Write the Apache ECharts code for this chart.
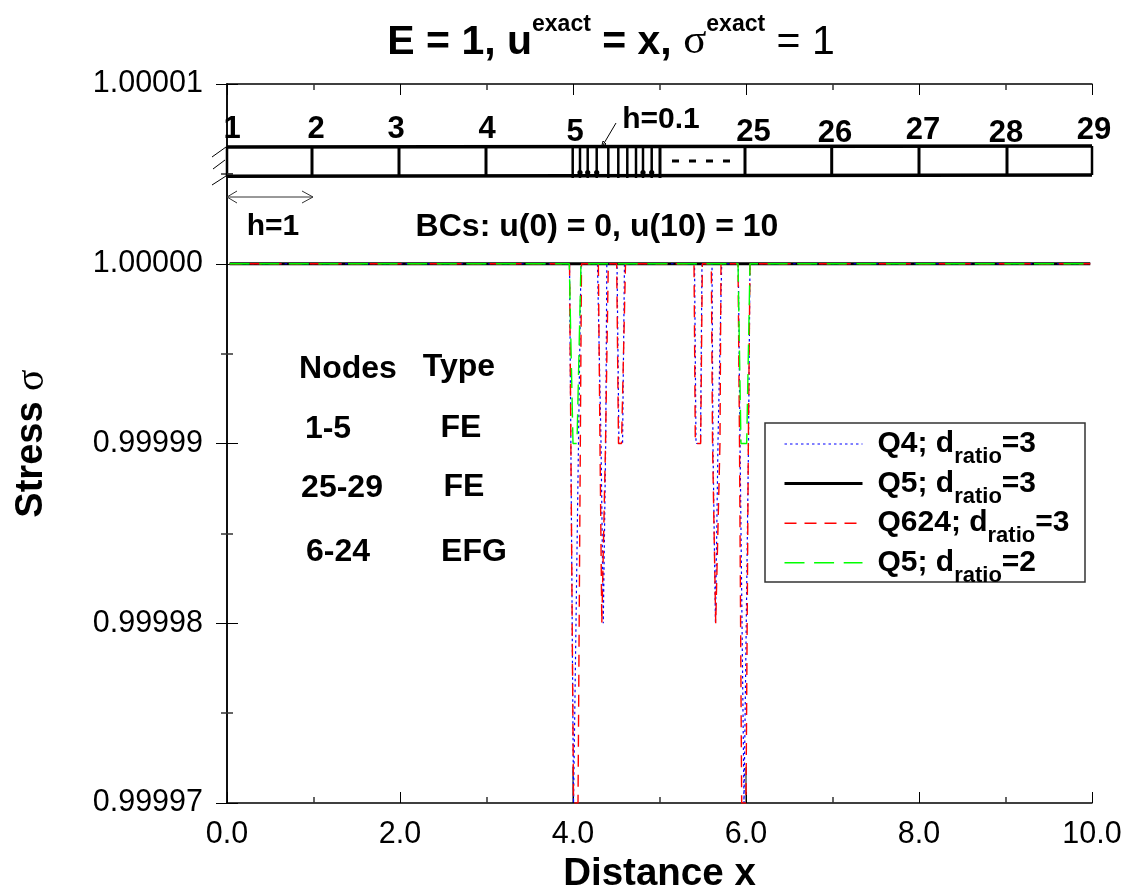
<!DOCTYPE html>
<html><head><meta charset="utf-8">
<style>html,body{margin:0;padding:0;background:#fff}#c{width:1129px;height:890px}</style>
<script src="https://cdn.jsdelivr.net/npm/echarts@6/dist/echarts.min.js"></script>
</head><body><div id="c"></div>
<script>
var q4X=[0.03,3.960,4.006,4.023,4.092,4.283,4.324,4.350,4.378,4.391,4.509,4.531,4.573,4.595,5.405,5.422,5.474,5.491,5.607,5.618,5.647,5.653,5.676,5.719,5.911,5.931,5.977,6.000,6.029,6.046,9.98];
var q4Y=[1,1,0.99997,0.99997,1,1,0.99999,0.99998,0.99999,1,1,0.99999,0.99999,1,1,0.99999,0.99999,1,1,0.99999,0.99998,0.99998,0.99999,1,1,0.99999,0.99997,0.99997,0.99999,1,1];
var q5X=[0.03,9.98];
var q5Y=[1,1];
var q5StubX=[4.0,4.0,null,6.0,6.0];
var q5StubY=[0.99997,0.999972,null,0.99997,0.999972];
var q624X=[0.03,3.960,4.006,4.058,4.098,4.293,4.312,4.333,4.350,4.376,4.393,4.408,4.505,4.526,4.561,4.607,5.399,5.414,5.476,5.495,5.599,5.613,5.624,5.650,5.665,5.699,5.711,5.908,5.925,5.950,6.000,6.027,6.046,9.98];
var q624Y=[1,1,0.99997,0.99997,1,1,0.99999,0.99998,0.99998,0.99999,0.99999,1,1,0.99999,0.99999,1,1,0.99999,0.99999,1,1,0.99999,0.99999,0.99998,0.99998,0.99999,1,1,0.99999,0.99997,0.99997,0.99999,1,1];
var q5r2X=[0.03,3.957,4.000,4.046,4.092,5.908,5.942,6.008,6.046,9.98];
var q5r2Y=[1,1,0.99999,0.99999,1,1,0.99999,0.99999,1,1];
var seriesNames=['Q4; dratio=3','Q5; dratio=3','Q624; dratio=3','Q5; dratio=2'];
var legendWidths=[1.2,3,1.4,1.4];

function pairs(xs,ys){return xs.map(function(x,i){return x===null?[null,null]:[x,ys[i]];});}
var F='"Liberation Sans",Arial,sans-serif';
var chart=echarts.init(document.getElementById('c'),null,{renderer:'canvas'});
function line(id,pts,w,color,extra){
  var o={type:'polyline',silent:true,z:10,shape:{points:pts},style:{stroke:color||'#000',lineWidth:w,fill:null}};
  if(extra)for(var k in extra)o.style[k]=extra[k];
  return o;
}
function txt(s,x,y,size){
  return {type:'text',silent:true,z:11,x:x,y:y,style:{text:s,fill:'#000',font:'bold '+size+'px '+F,textAlign:'center',textVerticalAlign:'middle'}};
}
function beamTopY(x){return 147-(x-227)/865*1;}
function beamBotY(x){return 176.3-(x-227)/865*1.3;}
var g=[];
g.push({type:'rect',silent:true,z:8,shape:{x:765,y:423,width:320,height:159},style:{fill:'#fff',stroke:'#333',lineWidth:1.5}});
g.push(line('t',[[227,147],[1092,146]],3.5));
g.push(line('b',[[227,176.3],[1092,175]],3.5));
[227,312,399,486,745,831.7,919,1007,1092].forEach(function(x){g.push(line('n',[[x,beamTopY(x)],[x,beamBotY(x)]],x===227||x===1092?2.5:3));});
[572.7,580,587.7,596.7,608.3,618.3,627.3,636,643,651.7,660].forEach(function(x){g.push(line('n',[[x,beamTopY(x)],[x,178]],x===660?3:2.5));});
[580,587.7,596.7,643,651.7].forEach(function(x){g.push({type:'circle',silent:true,z:10,shape:{cx:x,cy:172.5,r:2.6},style:{fill:'#000'}});});
g.push(line('lead',[[616,123],[603,145]],1));
g.push(line('lead2',[[601.5,147],[603,141],[606,144],[601.5,147]],1));
g.push(line('dash',[[672,161],[738,161]],3,'#000',{lineDash:[7,10]}));
g.push(line('h1',[[227,197],[313,197]],1,'#333'));
g.push(line('h1a',[[237,191],[227,197],[237,203]],1,'#333'));
g.push(line('h1b',[[302,191],[313,197],[302,203]],1,'#333'));
g.push(line('h',[[212,157],[226,147]],1));
g.push(line('h',[[213,169],[225,160]],1));
g.push(line('h',[[212,185],[226,176]],1));
g.push(line('h',[[227,174],[233,174]],1.5,'#333'));
[['1',232,129,31],['2',316,129,31],['3',396,129,31],['4',487,129,31],['5',575,132,31],['25',753.5,132,31],['26',835,133,31],['27',923,130,31],['28',1006,133,31],['29',1094,130,31],
 ['h=0.1',661,120,30],['h=1',273,227,30],['BCs: u(0) = 0, u(10) = 10',597,227,32],
 ['Nodes',348,369,32],['Type',459,367,32],['1-5',328,429,32],['FE',461,428,32],['25-29',342,488,32],['FE',464,487,32],['6-24',338,552,32],['EFG',474,552,32]
].forEach(function(t){g.push(txt(t[0],t[1],t[2],t[3]));});

var axisLine={show:true,lineStyle:{color:'#000',width:1.5}};
var tick={show:true,inside:true,length:11,lineStyle:{color:'#000',width:1}};
var minor={show:true,length:6,lineStyle:{color:'#333',width:1.5}};
var series=[
 {name:seriesNames[0],type:'line',data:pairs(q4X,q4Y),lineStyle:{color:'#0000ff',width:1.2,type:[2.5,3]},itemStyle:{color:'#0000ff'},z:3},
 {name:seriesNames[1],type:'line',data:pairs(q5X,q5Y),lineStyle:{color:'#000',width:3},itemStyle:{color:'#000'},z:2},
 {name:'Q5 lower ends',type:'line',data:pairs(q5StubX,q5StubY),connectNulls:false,lineStyle:{color:'#000',width:1},itemStyle:{color:'#000'},z:2},
 {name:seriesNames[2],type:'line',data:pairs(q624X,q624Y),lineStyle:{color:'#ff0000',width:1.4,type:[12,8]},itemStyle:{color:'#ff0000'},z:4},
 {name:seriesNames[3],type:'line',data:pairs(q5r2X,q5r2Y),lineStyle:{color:'#00ff00',width:1.4,type:[20,9.6]},itemStyle:{color:'#00ff00'},z:5}
];
series.forEach(function(s){s.symbol='none';s.showSymbol=false;s.silent=true;s.clip=true;s.animation=false;s.xAxisIndex=0;s.yAxisIndex=0;});

chart.setOption({
 animation:false,
 backgroundColor:'#fff',
 textStyle:{fontFamily:F,color:'#000'},
 title:{
  left:606,top:8,textAlign:'center',
  text:'{b|E = 1, u}{bs|exact}{b| = x, }{g|σ}{bs|exact}{n| = 1}',
  textStyle:{rich:{
   b:{fontFamily:F,fontWeight:'bold',fontSize:41,color:'#000',lineHeight:50,verticalAlign:'bottom'},
   n:{fontFamily:F,fontWeight:'normal',fontSize:41,color:'#000',lineHeight:50,verticalAlign:'bottom'},
   g:{fontFamily:'"Liberation Serif",serif',fontWeight:'normal',fontSize:43,color:'#000',lineHeight:50,verticalAlign:'bottom'},
   bs:{fontFamily:F,fontWeight:'bold',fontSize:23,color:'#000',lineHeight:26,verticalAlign:'top'}
  }}
 },
 grid:{left:227,top:84,width:865,height:719,containLabel:false,outerBoundsMode:'none'},
 legend:{
  show:true,orient:'vertical',left:783,top:429,
  data:seriesNames.map(function(n,i){return {name:n,lineStyle:{width:legendWidths[i]}};}),
  itemWidth:78,itemHeight:14,itemGap:0.6,
  padding:0,
  backgroundColor:'transparent',borderWidth:0,
  itemStyle:{color:'transparent',borderWidth:0,opacity:0},
  selectedMode:false,z:9,
  formatter:function(n){var p=n.split('dratio');return '{p| }{m|'+p[0]+'d}{s|ratio}{m|'+p[1]+'}';},
  textStyle:{rich:{
   p:{width:10,fontSize:10,lineHeight:10},
   m:{fontFamily:F,fontWeight:'bold',fontSize:30,color:'#000',lineHeight:48,verticalAlign:'middle'},
   s:{fontFamily:F,fontWeight:'bold',fontSize:22,color:'#000',lineHeight:22,verticalAlign:'bottom'}
  }}
 },
 xAxis:[
  {type:'value',min:0,max:10,interval:2,position:'bottom',
   name:'Distance x',nameLocation:'middle',nameGap:48,nameTextStyle:{fontFamily:F,fontWeight:'bold',fontSize:38.5,color:'#000'},
   axisLine:axisLine,axisTick:tick,minorTick:Object.assign({splitNumber:2},minor),splitLine:{show:false},minorSplitLine:{show:false},
   axisLabel:{show:true,margin:16,fontFamily:F,fontSize:30.5,color:'#000',formatter:function(v){return v.toFixed(1);}}},
  {type:'value',min:0,max:10,interval:2,position:'top',axisLine:axisLine,axisTick:tick,minorTick:Object.assign({splitNumber:2},minor),splitLine:{show:false},axisLabel:{show:false}}
 ],
 yAxis:[
  {type:'value',min:0.99997,max:1.00001,interval:0.00001,position:'left',
   name:'{b|Stress }{g|σ}',nameLocation:'middle',nameGap:175,nameRotate:90,
   nameTextStyle:{rich:{b:{fontFamily:F,fontWeight:'bold',fontSize:38,color:'#000'},g:{fontFamily:'"Liberation Serif",serif',fontSize:40,color:'#000'}}},
   axisLine:axisLine,axisTick:tick,minorTick:Object.assign({splitNumber:2},minor),splitLine:{show:false},minorSplitLine:{show:false},
   axisLabel:{show:true,margin:24,fontFamily:F,fontSize:30.5,color:'#000',padding:[6,0,0,0],formatter:function(v){return v.toFixed(5);}}},
  {type:'value',min:0.99997,max:1.00001,interval:0.00001,position:'right',axisLine:axisLine,axisTick:tick,minorTick:Object.assign({splitNumber:2},minor),splitLine:{show:false},axisLabel:{show:false}}
 ],
 series:series,
 graphic:g
});
</script></body></html>
